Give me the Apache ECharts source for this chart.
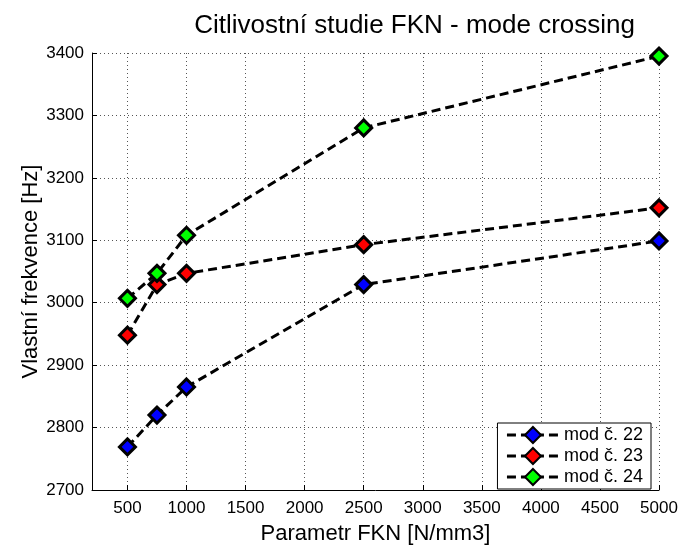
<!DOCTYPE html>
<html>
<head>
<meta charset="utf-8">
<script src="https://cdn.jsdelivr.net/npm/echarts@6/dist/echarts.min.js"></script>
<style>html,body{margin:0;padding:0;background:#fff;}#c{width:681px;height:550px;}</style>
</head>
<body>
<div id="c"></div>
<script>
const xValues = [500, 750, 1000, 2500, 5000];
const mod22 = [2769, 2820, 2865, 3029, 3099];
const mod23 = [2948, 3029, 3047, 3093, 3152];
const mod24 = [3007, 3047, 3108, 3280, 3395];
const seriesNames = ['mod č. 22', 'mod č. 23', 'mod č. 24'];
const seriesColors = ['#0000ff', '#ff0000', '#00ff00'];
const xTicks = [500, 1000, 1500, 2000, 2500, 3000, 3500, 4000, 4500, 5000];

const font = 'Liberation Sans, Arial, Helvetica, sans-serif';
const chart = echarts.init(document.getElementById('c'));
const allData = [mod22, mod23, mod24];
chart.setOption({
  animation: false,
  backgroundColor: '#fff',
  title: {
    text: 'Citlivostní studie FKN - mode crossing',
    right: 41, top: 8,
    textStyle: {fontFamily: font, fontSize: 26, fontWeight: 'normal', color: '#000'}
  },
  grid: {left: 92, right: 22, top: 53, bottom: 53, containLabel: false},
  legend: {
    orient: 'vertical', right: 30, bottom: 61,
    backgroundColor: '#fff', borderColor: '#000', borderWidth: 1,
    padding: [3, 8, 3, 8], itemGap: 3, itemWidth: 52, itemHeight: 20,
    textStyle: {fontFamily: font, fontSize: 18, color: '#000'},
    lineStyle: {width: 3, type: [9, 5], color: '#000'},
    data: seriesNames
  },
  xAxis: {
    type: 'value', min: 200, max: 5000,
    name: 'Parametr FKN [N/mm3]', nameLocation: 'middle', nameGap: 33, nameMoveOverlap: false,
    nameTextStyle: {fontFamily: font, fontSize: 22, color: '#000'},
    axisLine: {show: true, onZero: false, lineStyle: {color: '#000', width: 1}},
    axisTick: {show: true, inside: true, length: 5, customValues: xTicks, lineStyle: {color: '#000'}},
    axisLabel: {customValues: xTicks, fontFamily: font, fontSize: 17, color: '#000', margin: 10,
      formatter: v => String(v)},
    splitLine: {show: true, customValues: xTicks, lineStyle: {color: '#555', type: [1, 3], width: 1}}
  },
  yAxis: {
    type: 'value', min: 2700, max: 3400, interval: 100,
    name: 'Vlastní frekvence [Hz]', nameLocation: 'middle', nameGap: 50, nameMoveOverlap: false,
    nameTextStyle: {fontFamily: font, fontSize: 22, color: '#000'},
    axisLine: {show: true, onZero: false, lineStyle: {color: '#000', width: 1}},
    axisTick: {show: true, inside: true, length: 5, lineStyle: {color: '#000'}},
    axisLabel: {fontFamily: font, fontSize: 17, color: '#000', margin: 8, formatter: v => String(v)},
    splitLine: {show: true, lineStyle: {color: '#555', type: [1, 3], width: 1}}
  },
  series: seriesNames.map((n, i) => ({
    name: n, type: 'line',
    data: xValues.map((x, j) => [x, allData[i][j]]),
    symbol: 'diamond', symbolSize: 16,
    lineStyle: {color: '#000', width: 3, type: [9, 5]},
    itemStyle: {color: seriesColors[i], borderColor: '#000', borderWidth: 3},
    z: 2 + i
  }))
});
</script>
</body>
</html>
